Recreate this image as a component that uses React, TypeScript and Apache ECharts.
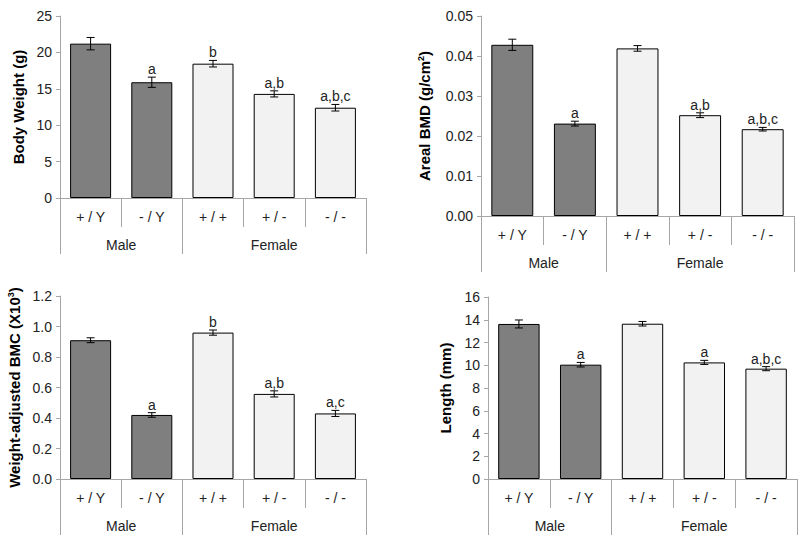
import React, { useEffect, useRef } from "react";
import * as echarts from "echarts";

const categories = ["+ / Y", "- / Y", "+ / +", "+ / -", "- / -"];
const groups = ["Male", "Female"];
const groupSizes = [2, 3];

const bodyWeight = [21.2, 15.9, 18.45, 14.3, 12.4];
const bodyWeightErr = [0.85, 0.7, 0.45, 0.42, 0.45];
const bodyWeightSig = ["", "a", "b", "a,b", "a,b,c"];

const bmd = [0.0428, 0.0231, 0.0419, 0.0252, 0.0217];
const bmdErr = [0.0014, 0.0006, 0.0007, 0.0006, 0.00045];
const bmdSig = ["", "a", "", "a,b", "a,b,c"];

const bmc = [0.91, 0.42, 0.96, 0.558, 0.43];
const bmcErr = [0.016, 0.015, 0.017, 0.02, 0.02];
const bmcSig = ["", "a", "b", "a,b", "a,c"];

const lengthMm = [13.63, 10.05, 13.65, 10.25, 9.7];
const lengthErr = [0.35, 0.2, 0.2, 0.18, 0.18];
const lengthSig = ["", "a", "", "a", "a,b,c"];

const FONT = "'Liberation Sans', Arial, sans-serif";
const GRAY = "#a6a6a6";

const panels = [
  { name: "Body Weight (g)", values: bodyWeight, errs: bodyWeightErr, sig: bodyWeightSig, min: 0, max: 25, interval: 5, digits: 0, gap: 34, grid: { left: 60, top: 16, width: 306, height: 182 } },
  { name: "Areal BMD (g/cm{sup|2})", values: bmd, errs: bmdErr, sig: bmdSig, min: 0, max: 0.05, interval: 0.01, digits: 2, gap: 49, grid: { left: 481, top: 16, width: 313, height: 200 } },
  { name: "Weight-adjusted BMC (X10{sup|3})", values: bmc, errs: bmcErr, sig: bmcSig, min: 0, max: 1.2, interval: 0.2, digits: 1, gap: 38, grid: { left: 60, top: 296, width: 306, height: 183 } },
  { name: "Length (mm)", values: lengthMm, errs: lengthErr, sig: lengthSig, min: 0, max: 16, interval: 2, digits: 0, gap: 35, grid: { left: 488, top: 297, width: 309, height: 182 } },
];

function buildOption() {
  const boundaries: number[] = [0];
  const centers: number[] = [];
  let acc = 0;
  groupSizes.forEach((s) => {
    centers.push(acc + s / 2);
    acc += s;
    boundaries.push(acc);
  });
  const maleCount = groupSizes[0];

  const grid: any[] = [];
  const xAxis: any[] = [];
  const yAxis: any[] = [];
  const series: any[] = [];

  panels.forEach((p, pi) => {
    grid.push({ ...p.grid, containLabel: false });
    xAxis.push({
      type: "category",
      gridIndex: pi,
      data: categories,
      axisLine: { lineStyle: { color: GRAY, width: 1 } },
      axisTick: { show: true, interval: 0, length: 29, lineStyle: { color: GRAY } },
      axisLabel: { interval: 0, margin: 12, fontSize: 14, color: "#222", fontFamily: FONT },
      splitLine: { show: false },
    });
    xAxis.push({
      type: "value",
      gridIndex: pi,
      position: "bottom",
      min: 0,
      max: categories.length,
      axisLine: { show: false },
      axisTick: { show: true, customValues: boundaries, length: 56, lineStyle: { color: GRAY } },
      axisLabel: {
        show: true,
        customValues: centers,
        margin: 40,
        fontSize: 14,
        color: "#222",
        fontFamily: FONT,
        formatter: (v: number) => groups[centers.indexOf(v)] ?? "",
      },
      splitLine: { show: false },
    });
    yAxis.push({
      type: "value",
      gridIndex: pi,
      min: p.min,
      max: p.max,
      interval: p.interval,
      name: p.name,
      nameLocation: "middle",
      nameRotate: 90,
      nameGap: p.gap,
      nameTextStyle: {
        fontSize: 15,
        fontWeight: "bold",
        color: "#000",
        fontFamily: FONT,
        rich: { sup: { fontSize: 9, fontWeight: "bold", color: "#000", fontFamily: FONT, padding: [0, 0, 7, 0] } },
      },
      axisLine: { show: true, lineStyle: { color: GRAY } },
      axisTick: { show: true, length: 4, lineStyle: { color: GRAY } },
      axisLabel: { fontSize: 14, color: "#222", margin: 8, fontFamily: FONT, formatter: (v: number) => v.toFixed(p.digits) },
      splitLine: { show: false },
    });
    series.push({
      type: "bar",
      xAxisIndex: pi * 2,
      yAxisIndex: pi,
      barCategoryGap: "33%",
      data: p.values.map((v, i) => ({
        value: v,
        itemStyle: { color: i < maleCount ? "#7f7f7f" : "#f2f2f2", borderColor: "#000", borderWidth: 1 },
      })),
    });
    series.push({
      type: "custom",
      xAxisIndex: pi * 2,
      yAxisIndex: pi,
      encode: { x: 0, y: 1 },
      z: 5,
      data: p.values.map((v, i) => [i, v, p.errs[i]]),
      renderItem: (params: any, api: any) => {
        const i = api.value(0);
        const m = api.value(1);
        const e = api.value(2);
        const t = api.coord([i, m + e]);
        const b = api.coord([i, m - e]);
        const h = 4;
        const st = { stroke: "#000", lineWidth: 1 };
        const letter = p.sig[params.dataIndex];
        const children: any[] = [
          { type: "line", shape: { x1: t[0], y1: t[1], x2: b[0], y2: b[1] }, style: st },
          { type: "line", shape: { x1: t[0] - h, y1: t[1], x2: t[0] + h, y2: t[1] }, style: st },
          { type: "line", shape: { x1: b[0] - h, y1: b[1], x2: b[0] + h, y2: b[1] }, style: st },
        ];
        if (letter) {
          children.push({
            type: "text",
            x: t[0],
            y: t[1] - 1,
            style: { text: letter, fill: "#222", fontSize: 14, fontFamily: FONT, align: "center", verticalAlign: "bottom" },
          });
        }
        return { type: "group", children };
      },
    });
  });

  return {
    animation: false,
    backgroundColor: "#fff",
    textStyle: { fontFamily: FONT },
    grid,
    xAxis,
    yAxis,
    series,
  };
}

export default function App() {
  const ref = useRef<HTMLDivElement>(null);
  useEffect(() => {
    if (!ref.current) return;
    const chart = echarts.init(ref.current, null, { renderer: "svg" });
    chart.setOption(buildOption() as any);
    return () => chart.dispose();
  }, []);
  return <div ref={ref} style={{ position: "fixed", left: 0, top: 0, width: 800, height: 543, background: "#fff" }} />;
}
